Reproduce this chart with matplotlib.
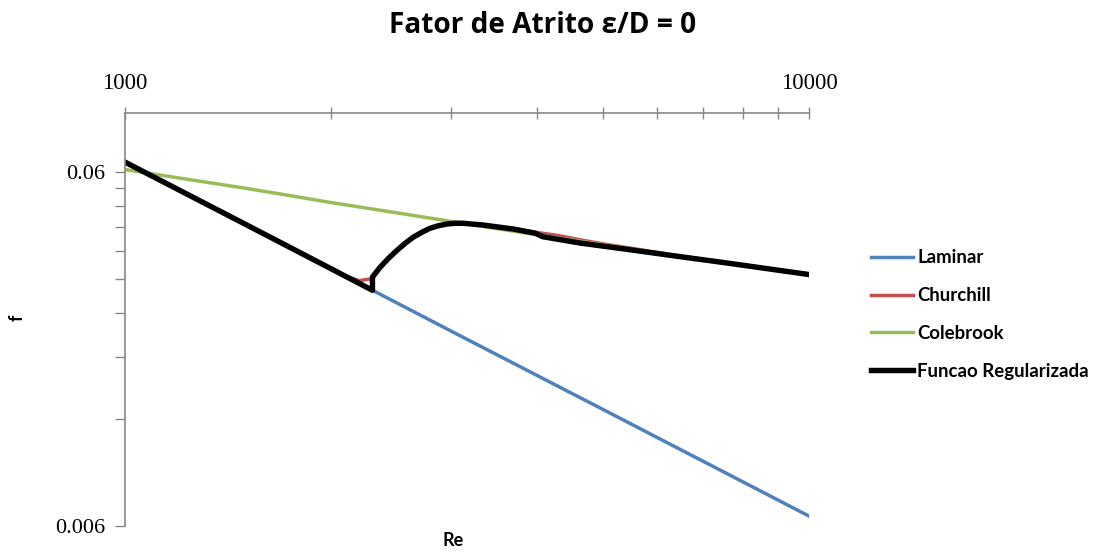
import matplotlib.pyplot as plt
from matplotlib.ticker import FixedLocator, NullFormatter

# values (Re, friction factor f)
re_laminar = [1000, 2000, 3000, 5000, 10000]
f_laminar = [0.0640, 0.0320, 0.0213, 0.0128, 0.0064]

re_churchill = [1000, 1500, 2000, 2100, 2200, 2300, 2360, 2430, 2500, 2570, 2640, 2720,
                2790, 2870, 2960, 3040, 3120, 3340, 3700, 4000, 4300, 4630, 5000, 5470,
                6480, 7590, 10000]
f_churchill = [0.0640, 0.0427, 0.0320, 0.0305, 0.0296, 0.0300, 0.0323, 0.0343, 0.0361,
               0.0378, 0.0393, 0.0406, 0.0416, 0.0423, 0.0428, 0.0430, 0.0430, 0.0426,
               0.0415, 0.0405, 0.0397, 0.0386, 0.0376, 0.0366, 0.0347, 0.0332, 0.0308]

re_colebrook = [1000, 1250, 1500, 1750, 2000, 2500, 3000, 3500, 4000, 5000, 6000,
                7000, 8000, 10000]
f_colebrook = [0.0610, 0.0570, 0.0540, 0.0514, 0.0492, 0.0460, 0.0435, 0.0415, 0.0399,
               0.0374, 0.0355, 0.0340, 0.0328, 0.0309]

re_reg = [1000, 1500, 2000, 2300, 2300, 2330, 2360, 2430, 2500, 2570, 2640, 2720, 2790,
          2870, 2960, 3040, 3120, 3340, 3700, 3980, 4080, 4630, 5470, 6480, 7590, 10000]
f_reg = [0.0640, 0.0427, 0.0320, 0.0278, 0.0303, 0.0313, 0.0323, 0.0343, 0.0361,
         0.0378, 0.0393, 0.0406, 0.0416, 0.0423, 0.0428, 0.0430, 0.0430, 0.0425,
         0.0414, 0.0403, 0.0394, 0.0378, 0.0362, 0.0346, 0.0332, 0.0308]

x_ticks = [1000, 10000]
x_minor = [2000, 3000, 4000, 5000, 6000, 7000, 8000, 9000]
y_ticks = [0.006, 0.06]
y_minor = [0.006 * k for k in range(2, 10)]

fig = plt.figure(figsize=(10.94, 5.52), dpi=100)
ax = fig.add_axes((0.1143, 0.0471, 0.6252, 0.7482))

ax.plot(re_laminar, f_laminar, color='#4F81BD', lw=2.5, label='Laminar')
ax.plot(re_churchill, f_churchill, color='#C0504D', lw=2.5, label='Churchill')
ax.plot(re_colebrook, f_colebrook, color='#9BBB59', lw=2.5, label='Colebrook')
ax.plot(re_reg, f_reg, color='black', lw=3.9, label='Funcao Regularizada',
        solid_joinstyle='round')

ax.set_xscale('log')
ax.set_yscale('log')
ax.set_xlim(1000, 10000)
ax.set_ylim(0.006, 0.0881)

ax.xaxis.set_major_locator(FixedLocator(x_ticks))
ax.xaxis.set_minor_locator(FixedLocator(x_minor))
ax.yaxis.set_major_locator(FixedLocator(y_ticks))
ax.yaxis.set_minor_locator(FixedLocator(y_minor))
ax.set_xticklabels(['1000', '10000'], family='Liberation Serif', fontsize=16.5)
ax.set_yticklabels(['0.006', '0.06'], family='Liberation Serif', fontsize=16)
ax.xaxis.set_minor_formatter(NullFormatter())
ax.yaxis.set_minor_formatter(NullFormatter())

ax.xaxis.tick_top()
ax.tick_params(axis='x', which='both', direction='inout', length=8, width=1,
               color='#868686', pad=9.5)
ax.tick_params(axis='y', which='both', direction='out', length=7, width=1,
               color='#868686', pad=7)
for side in ['right', 'bottom']:
    ax.spines[side].set_visible(False)
for side in ['left', 'top']:
    ax.spines[side].set_color('#868686')
    ax.spines[side].set_linewidth(1.2)

fig.text(0.4963, 0.953, 'Fator de Atrito ε/D = 0', ha='center', va='center',
         family='Open Sans', fontweight='bold', fontsize=20.2)
fig.text(0.414, 0.02, 'Re', ha='center', va='center', family='Lato',
         fontweight='bold', fontsize=13)
fig.text(0.016, 0.424, 'f', ha='center', va='center', family='Lato',
         fontweight='bold', fontsize=13, rotation=90)

fig.legend(loc='upper left', bbox_to_anchor=(0.789, 0.562), frameon=False,
           prop={'family': 'Lato', 'weight': 'bold', 'size': 13.4}, handlelength=2.3,
           handletextpad=0.2, labelspacing=1.12, borderaxespad=0)

fig.savefig('out.png', dpi=100)
